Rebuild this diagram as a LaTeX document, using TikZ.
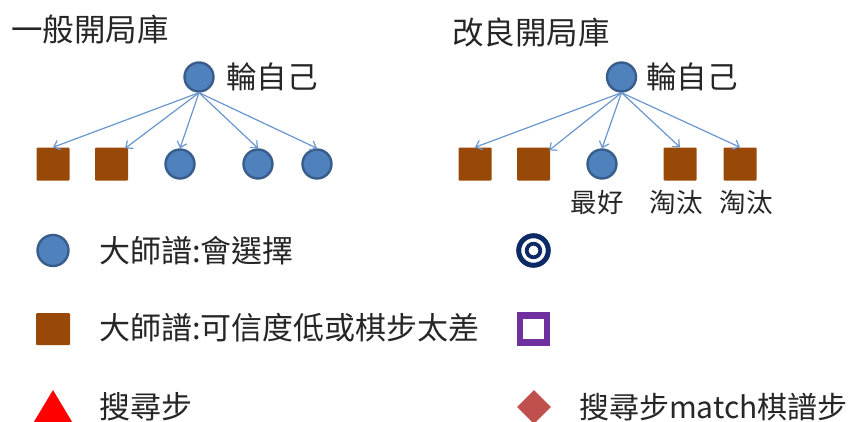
\documentclass[tikz,border=0pt]{standalone}
\usepackage{fontspec}
\setmainfont{Noto Sans CJK TC}
\usetikzlibrary{arrows.meta,shapes.geometric}
\definecolor{nodeblue}{HTML}{4F81BD}
\definecolor{nodeblueline}{HTML}{385D8A}
\definecolor{arrowblue}{HTML}{6A96CE}
\definecolor{brownsq}{HTML}{984807}
\definecolor{navy}{HTML}{0B2A66}
\definecolor{purplesq}{HTML}{7030A0}
\definecolor{diamondred}{HTML}{C0504D}
\definecolor{textgray}{HTML}{262626}
\tikzset{
  bignode/.style={circle, fill=nodeblue, draw=nodeblueline, line width=2.4pt, minimum size=29pt, inner sep=0pt},
  sqnode/.style={rectangle, fill=brownsq, minimum size=33pt, inner sep=0pt, rounded corners=1pt},
  edge arrow/.style={draw=arrowblue, line width=1.2pt, -{Straight Barb[length=5.5pt,width=10pt]}},
  titletext/.style={anchor=west, inner sep=0pt, text=textgray, font=\fontsize{31.5}{36}\selectfont},
  labtext/.style={anchor=west, inner sep=0pt, text=textgray, font=\fontsize{30.5}{34}\selectfont},
  smalltext/.style={inner sep=0pt, text=textgray, font=\fontsize{26.5}{30}\selectfont},
  legtext/.style={anchor=west, inner sep=0pt, text=textgray, font=\fontsize{31}{36}\selectfont}
}
\begin{document}
\begin{tikzpicture}[x=1pt,y=-1pt]
\useasboundingbox (0,0) rectangle (849,421);
\clip (0,0) rectangle (849,421);

% ---------- left tree ----------
\node[titletext] (tl) at (11,30) {一般開局庫};
\node[bignode] (rl) at (199,77) {};
\node[labtext] (rll) at (226,77) {輪自己};
\node[sqnode] (l1) at (53,164) {};
\node[sqnode] (l2) at (111.5,164) {};
\node[bignode] (l3) at (180,164) {};
\node[bignode] (l4) at (258,164) {};
\node[bignode] (l5) at (317,164) {};
\draw[edge arrow] (rl.south) -- (l1.north);
\draw[edge arrow] (rl.south) -- ([xshift=-3pt,yshift=-1pt]l2.north east);
\draw[edge arrow] (rl.south) -- (l3.north);
\draw[edge arrow] (rl.south) -- (l4.north);
\draw[edge arrow] (rl.south) -- (l5.north);

% ---------- right tree ----------
\node[titletext] (tr) at (452,32) {改良開局庫};
\node[bignode] (rr) at (621.5,77) {};
\node[labtext] (rrl) at (646,77) {輪自己};
\node[sqnode] (r1) at (475,164) {};
\node[sqnode] (r2) at (533.5,164) {};
\node[bignode] (r3) at (602,164) {};
\node[sqnode] (r4) at (680,164) {};
\node[sqnode] (r5) at (740,164) {};
\draw[edge arrow] (rr.south) -- (r1.north);
\draw[edge arrow] (rr.south) -- ([xshift=-1pt,yshift=-3pt]r2.north east);
\draw[edge arrow] (rr.south) -- (r3.north);
\draw[edge arrow] (rr.south) -- (r4.north);
\draw[edge arrow] (rr.south) -- (r5.north);
\node[smalltext] (b3) at (597,202) {最好};
\node[smalltext] (b4) at (676,202) {淘汰};
\node[smalltext] (b5) at (746,202) {淘汰};

% ---------- legend ----------
\node[circle, fill=nodeblue, draw=nodeblueline, line width=2.4pt, minimum size=31pt, inner sep=0pt] (lg1) at (53,250.5) {};
\node[legtext] (lt1) at (99,251) {大師譜:會選擇};
\node[sqnode, minimum width=34pt, minimum height=32pt] (lg2) at (53,329) {};
\node[legtext] (lt2) at (99,328) {大師譜:可信度低或棋步太差};
\path[fill=red] (53,390) coordinate (tapex) -- (29,430) -- (77,430) -- cycle;
\node[legtext] (lt3) at (99,407) {搜尋步};

\node[circle, draw=navy, line width=5pt, minimum size=29.6pt, inner sep=0pt] (lg4) at (533.5,250.5) {};
\node[circle, draw=navy, line width=3.8pt, minimum size=13.6pt, inner sep=0pt] (lg4b) at (lg4.center) {};
\node[rectangle, draw=purplesq, fill=white, line width=6.5pt, minimum size=27pt, inner sep=0pt] (lg5) at (533.5,329) {};
\node[diamond, fill=diamondred, minimum width=34pt, minimum height=34pt, inner sep=0pt] (lg6) at (534,407) {};
\node[legtext, font=\fontsize{30}{36}\selectfont] (lt6) at (579,407) {搜尋步match棋譜步};
\end{tikzpicture}
\end{document}
